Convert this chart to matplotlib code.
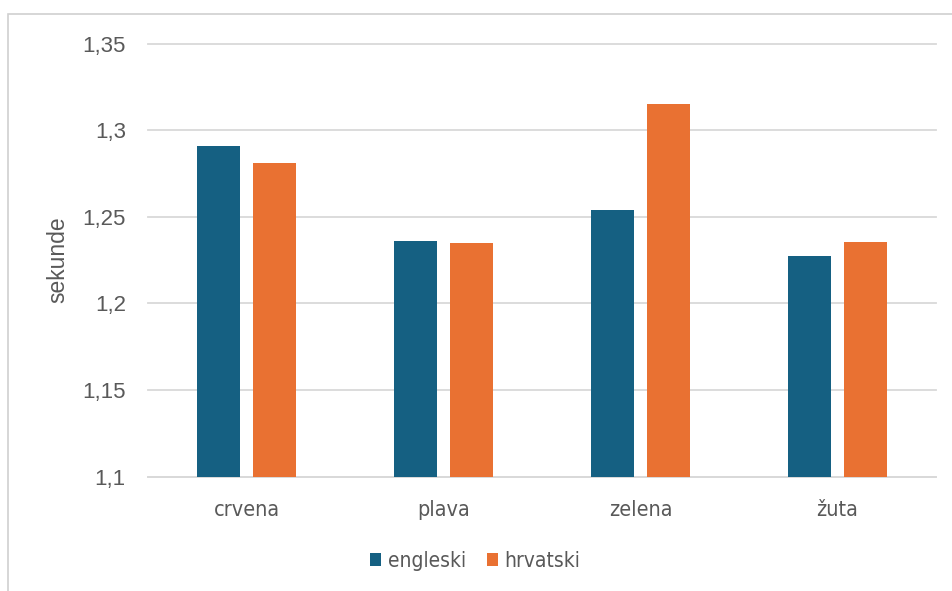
import matplotlib.pyplot as plt
import numpy as np
from matplotlib.patches import Rectangle
from matplotlib.ticker import FuncFormatter

# podaci
boje = ['crvena', 'plava', 'zelena', 'žuta']
engleski = [1.2906, 1.2360, 1.2540, 1.2275]
hrvatski = [1.2811, 1.2348, 1.3150, 1.2352]

c_eng = '#156082'
c_hrv = '#E97132'
c_text = '#595959'
c_grid = '#D9D9D9'

fig = plt.figure(figsize=(9.52, 5.91), dpi=100)
ax = fig.add_axes([148/952, 1 - 476.5/591, (936 - 148)/952, (476.5 - 43.5)/591])

# okvir grafikona
fig.patches.append(Rectangle((8/952, -0.1), 1.1, 1 - 14/591 + 0.1, transform=fig.transFigure,
                             fill=False, edgecolor='#D0D0D0', linewidth=1.2))

x = np.arange(len(boje))
width = 0.223
off = 0.142
ax.bar(x - off, engleski, width, color=c_eng, label='engleski', zorder=3)
ax.bar(x + off, hrvatski, width, color=c_hrv, label='hrvatski', zorder=3)

ax.set_xlim(-0.5, len(boje) - 0.5)
ax.set_ylim(1.1, 1.35)
ax.set_yticks(np.arange(1.1, 1.3501, 0.05))
ax.yaxis.set_major_formatter(FuncFormatter(lambda v, p: ('%.2f' % v).rstrip('0').replace('.', ',')))
ax.grid(axis='y', color=c_grid, linewidth=1.3, zorder=0, clip_on=False)

for s in ['top', 'right', 'left']:
    ax.spines[s].set_visible(False)
ax.spines['bottom'].set_color(c_grid)
ax.spines['bottom'].set_linewidth(1.3)

ax.tick_params(axis='y', length=0, pad=16, labelcolor=c_text)
ax.tick_params(axis='x', length=0, pad=17, labelcolor=c_text)
for t in ax.get_yticklabels():
    t.set_fontfamily('Liberation Sans')
    t.set_fontsize(16)
ax.set_xticks(x)
ax.set_xticklabels(boje, fontsize=15.5, family='DejaVu Sans', stretch='condensed')

ax.set_ylabel('sekunde', fontsize=16.5, family='Liberation Sans', color=c_text, labelpad=9)

leg = fig.legend(loc='center', bbox_to_anchor=(475/952, 1 - 561/591), ncol=2, frameon=False,
                 prop={'family': 'DejaVu Sans', 'stretch': 'condensed', 'size': 15},
                 handlelength=0.55, handleheight=0.55, handletextpad=0.3, columnspacing=1.0)
for t in leg.get_texts():
    t.set_color(c_text)

fig.savefig('out.png', dpi=100)
